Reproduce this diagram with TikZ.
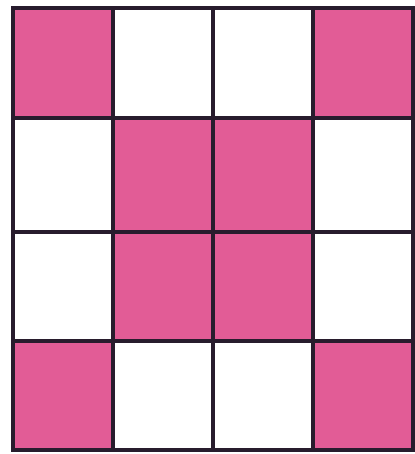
\documentclass[tikz,border=0pt]{standalone}
\definecolor{cellpink}{RGB}{226,92,150}
\definecolor{gridline}{RGB}{40,28,45}
\tikzset{pinkcell/.style={fill=cellpink},gridstroke/.style={draw=gridline,line width=2pt,line cap=rect}}
\begin{document}
\begin{tikzpicture}[x=0.5pt,y=-0.5pt]
\useasboundingbox (0,0) rectangle (415,454);
\def\xs{{13,113,213,313,413}}
\def\ys{{8,118,232,341,450}}
% pink cells: corners and centre
\foreach \i/\j in {0/0,3/0,1/1,2/1,1/2,2/2,0/3,3/3}{
  \pgfmathsetmacro\xa{\xs[\i]}\pgfmathsetmacro\xb{\xs[\i+1]}
  \pgfmathsetmacro\ya{\ys[\j]}\pgfmathsetmacro\yb{\ys[\j+1]}
  \fill[pinkcell] (\xa,\ya) rectangle (\xb,\yb);
}
\foreach \i in {0,...,4}{
  \pgfmathsetmacro\xa{\xs[\i]}
  \draw[gridstroke] (\xa,8) -- (\xa,450);
  \pgfmathsetmacro\ya{\ys[\i]}
  \draw[gridstroke] (13,\ya) -- (413,\ya);
}
\end{tikzpicture}
\end{document}
